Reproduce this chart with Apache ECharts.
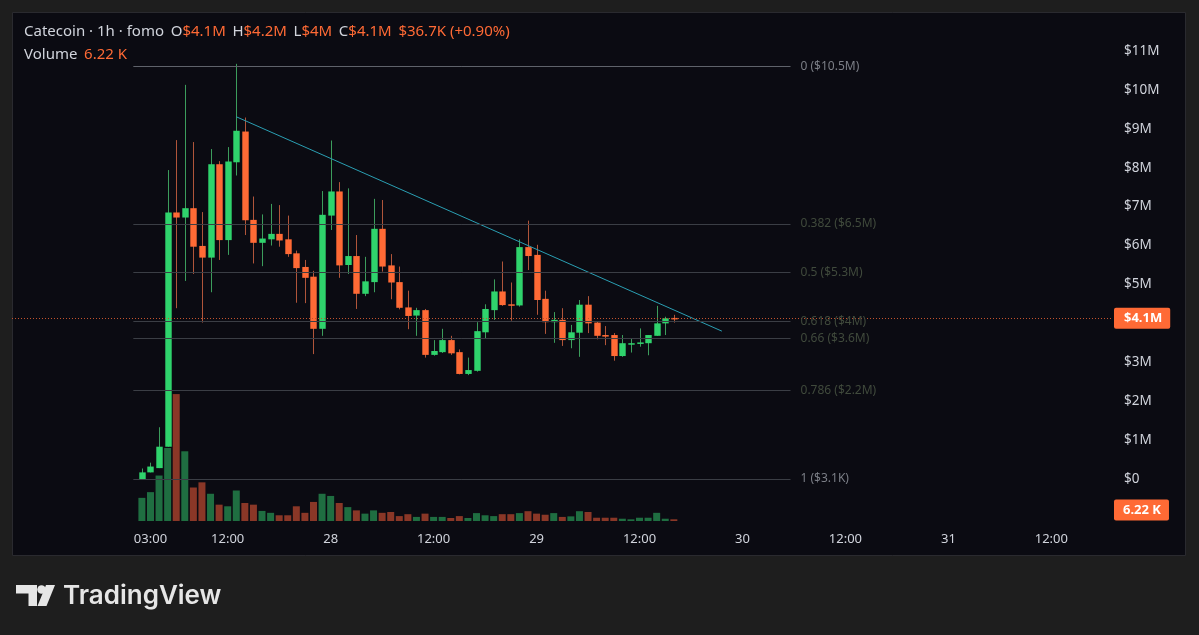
<!DOCTYPE html>
<html>
<head>
<meta charset="utf-8">
<title>Catecoin · 1h</title>
<script src="https://cdn.jsdelivr.net/npm/echarts@6/dist/echarts.min.js"></script>
<style>
  html, body { margin: 0; padding: 0; background: #1e1e1e; }
  #chart { width: 1199px; height: 635px; }
</style>
</head>
<body>
<div id="chart"></div>
<script>
// hourly candles from the 27th 02:00 (index 0) to the 29th 16:00, prices in $M
var candleOpen  = [0.00, 0.17, 0.28, 0.83, 6.85, 6.72, 6.96, 5.99, 5.69, 8.09, 6.14, 8.14, 8.93, 6.66, 6.07, 6.16,
                   6.30, 6.16, 5.80, 5.45, 5.20, 3.86, 6.77, 7.39, 5.50, 5.73, 4.76, 5.06, 6.43, 5.49, 5.06, 4.41,
                   4.20, 4.34, 3.19, 3.26, 3.57, 3.26, 2.70, 2.78, 3.77, 4.34, 4.82, 4.49, 4.46, 5.96, 5.76, 4.63,
                   4.03, 4.09, 3.57, 3.76, 4.48, 4.02, 3.70, 3.70, 3.16, 3.47, 3.49, 3.49, 3.68, 4.00, 4.14];
var candleClose = [0.17, 0.32, 0.83, 6.85, 6.72, 6.96, 5.97, 5.69, 8.09, 6.14, 8.16, 8.95, 6.65, 6.07, 6.18, 6.30,
                   6.13, 5.78, 5.42, 5.17, 3.86, 6.79, 7.39, 5.49, 5.73, 4.76, 5.08, 6.43, 5.46, 5.05, 4.40, 4.19,
                   4.34, 3.19, 3.29, 3.57, 3.23, 2.70, 2.80, 3.80, 4.37, 4.82, 4.47, 4.46, 5.96, 5.73, 4.60, 4.03,
                   4.09, 3.57, 3.77, 4.48, 4.00, 3.68, 3.66, 3.16, 3.49, 3.49, 3.51, 3.70, 4.00, 4.13, 4.12];
var candleLow   = [0.00, 0.17, 0.28, 0.83, 4.39, 5.09, 5.27, 4.02, 4.80, 5.63, 5.76, 7.80, 6.27, 5.54, 5.47, 6.00,
                   5.97, 5.71, 4.53, 4.52, 3.21, 3.68, 6.40, 5.17, 5.27, 4.37, 4.70, 4.80, 5.33, 4.62, 4.36, 3.85,
                   3.68, 3.12, 3.17, 3.24, 3.19, 2.69, 2.67, 2.76, 3.60, 4.09, 4.45, 4.07, 4.43, 5.37, 4.22, 3.73,
                   3.50, 3.42, 3.36, 3.14, 3.75, 3.59, 3.44, 3.04, 3.14, 3.25, 3.40, 3.18, 3.68, 3.70, 4.02];
var candleHigh  = [0.27, 0.42, 1.33, 7.94, 8.71, 10.13, 8.66, 6.86, 8.48, 8.17, 8.53, 10.67, 9.29, 7.26, 6.80, 7.07,
                   7.04, 6.77, 5.87, 5.63, 5.35, 7.40, 8.70, 7.63, 7.47, 6.27, 5.71, 7.20, 7.17, 5.78, 5.46, 4.84,
                   4.40, 4.37, 3.57, 3.86, 3.68, 3.33, 3.12, 4.03, 4.49, 5.13, 5.59, 5.05, 6.16, 6.64, 6.02, 4.84,
                   4.29, 4.39, 3.96, 4.60, 4.70, 4.04, 3.93, 3.75, 3.70, 3.61, 3.87, 3.70, 4.45, 4.17, 4.22];
// volume per candle, K
var volumeK = [85, 106, 167, 268, 466, 256, 123, 142, 100, 60, 54, 112, 66, 60, 37, 30,
               21, 21, 54, 30, 70, 100, 92, 66, 51, 39, 27, 39, 30, 33, 18, 25,
               15, 27, 15, 15, 11, 18, 11, 29, 21, 18, 25, 25, 29, 36, 27, 23,
               29, 15, 17, 36, 33, 12, 12, 12, 8.4, 6.2, 12, 12, 30, 8.4, 6.22];

var timeTickIndex  = [1, 10, 22, 34, 46, 58, 70, 82, 94, 106];
var timeTickLabels = ['03:00', '12:00', '28', '12:00', '29', '12:00', '30', '12:00', '31', '12:00'];

// fib retracement
var fibLevels = [0, 0.382, 0.5, 0.618, 0.66, 0.786, 1];
var fibPriceLabels = ['$10.5M', '$6.5M', '$5.3M', '$4M', '$3.6M', '$2.2M', '$3.1K'];
var fibHigh = 10.6;
var fibLow = 0.0031;
var fibFrom = -1, fibTo = 75.6;

// trend line
var trendX = [11, 67.6];
var trendY = [9.31, 3.80];

var lastPrice = 4.13;
var lastPriceLabel = '$4.1M';
var lastVolumeLabel = '6.22 K';

var header = {
  name: 'Catecoin · 1h · fomo',
  o: '$4.1M', h: '$4.2M', l: '$4M', c: '$4.1M',
  change: '$36.7K (+0.90%)'
};

var UP = '#2fd36c', DOWN = '#ff6a35';
var UP_WICK = '#3c9d5c', DOWN_WICK = '#b0553a';
var UP_VOL = '#1f6e41', DOWN_VOL = '#8a3727';
var TXT = '#d1d4dc';

var xMin = -15.14, xMax = 113.07;

var candleData = candleOpen.map(function (o, i) {
  return [i, o, candleClose[i], candleLow[i], candleHigh[i]];
});
var volumeData = volumeK.map(function (v, i) {
  var up = candleClose[i] >= candleOpen[i];
  return { value: [i, v], itemStyle: { color: up ? UP_VOL : DOWN_VOL } };
});

function renderCandle(params, api) {
  var i = api.value(0);
  var o = api.value(1), c = api.value(2), l = api.value(3), h = api.value(4);
  var pO = api.coord([i, o]), pC = api.coord([i, c]);
  var pL = api.coord([i, l]), pH = api.coord([i, h]);
  var w = api.size([1, 0])[0] * 0.75;
  var up = c >= o;
  var top = Math.min(pO[1], pC[1]);
  var hgt = Math.max(Math.abs(pO[1] - pC[1]), 1.5);
  var x = Math.round(pO[0]) + 0.5;
  return {
    type: 'group',
    children: [
      { type: 'line', shape: { x1: x, y1: pH[1], x2: x, y2: pL[1] },
        style: { stroke: up ? UP_WICK : DOWN_WICK, lineWidth: 1 } },
      { type: 'rect', shape: { x: x - w / 2, y: top, width: w, height: hgt },
        style: { fill: up ? UP : DOWN } }
    ]
  };
}

var fibLines = fibLevels.map(function (r, k) {
  var p = fibHigh - r * (fibHigh - fibLow);
  var edge = (r === 0 || r === 1);
  return [
    { coord: [fibFrom, p],
      lineStyle: { color: r === 0 ? '#5f626a' : '#3b3e45', width: 1, type: 'solid' },
      label: { show: true, position: 'end', distance: 10,
               formatter: r + ' (' + fibPriceLabels[k] + ')',
               color: edge ? '#7c7f87' : '#404a3c', fontSize: 12,
               fontFamily: 'Noto Sans' } },
    { coord: [fibTo, p] }
  ];
});

var chart = echarts.init(document.getElementById('chart'));
chart.setOption({
  animation: false,
  backgroundColor: '#1e1e1e',
  textStyle: { fontFamily: 'Noto Sans' },
  grid: [
    { left: 12, width: 1100, top: 51, height: 428 },
    { left: 12, width: 1100, top: 393, height: 128 }
  ],
  xAxis: [
    { type: 'value', gridIndex: 0, min: xMin, max: xMax, show: false },
    { type: 'value', gridIndex: 1, min: xMin, max: xMax,
      axisLine: { show: false }, axisTick: { show: false }, splitLine: { show: false },
      axisLabel: {
        customValues: timeTickIndex,
        formatter: function (v) {
          var k = timeTickIndex.indexOf(Math.round(v));
          return k >= 0 ? timeTickLabels[k] : '';
        },
        color: TXT, fontSize: 13, margin: 12
      } }
  ],
  yAxis: [
    { type: 'value', gridIndex: 0, position: 'right', min: 0, max: 11, interval: 1,
      axisLine: { show: false }, axisTick: { show: false }, splitLine: { show: false },
      axisLabel: {
        margin: 12, color: TXT, fontSize: 13.5, align: 'left',
        formatter: function (v) {
          if (v === 4) return '';
          return v === 0 ? '$0' : '$' + v + 'M';
        }
      } },
    { type: 'value', gridIndex: 1, min: 0, max: 470, show: false }
  ],
  series: [
    {
      type: 'bar', name: 'Volume', xAxisIndex: 1, yAxisIndex: 1,
      barWidth: 7, z: 1, data: volumeData
    },
    {
      type: 'custom', name: 'Catecoin', xAxisIndex: 0, yAxisIndex: 0, z: 3,
      renderItem: renderCandle, data: candleData,
      encode: { x: 0, y: [1, 2, 3, 4] }
    },
    {
      type: 'line', name: 'Trend', xAxisIndex: 0, yAxisIndex: 0, z: 4,
      symbol: 'none', lineStyle: { color: '#2a9fb3', width: 1 },
      data: trendX.map(function (x, i) { return [x, trendY[i]]; }),
      markLine: {
        silent: true, symbol: 'none', animation: false,
        data: fibLines.concat([{
          yAxis: lastPrice,
          lineStyle: { color: '#c4532e', width: 1, type: [1, 2] },
          label: {
            show: true, position: 'end', distance: 2,
            formatter: lastPriceLabel,
            color: '#ffffff', fontWeight: 'bold', fontSize: 13,
            backgroundColor: DOWN, padding: [4, 8, 4, 10], borderRadius: 2
          }
        }])
      }
    }
  ],
  graphic: [
    { type: 'rect', z: -10, shape: { x: 12.5, y: 12.5, width: 1173, height: 543 },
      style: { fill: '#0b0b12', stroke: '#2a2a2f', lineWidth: 1 } },
    { type: 'text', x: 24, y: 32, z: 10,
      style: {
        text: '{a|' + header.name + '}  {a|O}{b|' + header.o + '}  {a|H}{b|' + header.h +
              '}  {a|L}{b|' + header.l + '}  {a|C}{b|' + header.c + '}  {b|' + header.change + '}',
        verticalAlign: 'middle',
        rich: {
          a: { fill: TXT, fontSize: 15, fontFamily: 'Noto Sans' },
          b: { fill: DOWN, fontSize: 15, fontFamily: 'Noto Sans' }
        }
      } },
    { type: 'text', x: 24, y: 55, z: 10,
      style: {
        text: '{a|Volume}  {b|' + lastVolumeLabel + '}',
        verticalAlign: 'middle',
        rich: {
          a: { fill: TXT, fontSize: 15, fontFamily: 'Noto Sans' },
          b: { fill: DOWN, fontSize: 15, fontFamily: 'Noto Sans' }
        }
      } },
    { type: 'text', x: 1114, y: 510, z: 10,
      style: {
        text: lastVolumeLabel, fill: '#ffffff', font: 'bold 13px "Noto Sans"',
        verticalAlign: 'middle', backgroundColor: DOWN, padding: [4, 8, 4, 9], borderRadius: 2
      } },
    // TradingView logo
    { type: 'polygon', shape: { points: [[16, 585], [37, 585], [37, 606], [28.5, 606], [28.5, 593.5], [16, 593.5]] },
      style: { fill: '#e6e6e6' } },
    { type: 'circle', shape: { cx: 41.5, cy: 589.5, r: 4.3 }, style: { fill: '#e6e6e6' } },
    { type: 'polygon', shape: { points: [[46, 585], [55, 585], [46.5, 606], [37.5, 606]] },
      style: { fill: '#e6e6e6' } },
    { type: 'text', x: 63, y: 596, style: {
        text: 'TradingView', fill: '#e6e6e6', font: '600 26px Inter', verticalAlign: 'middle' } }
  ]
});
</script>
</body>
</html>
